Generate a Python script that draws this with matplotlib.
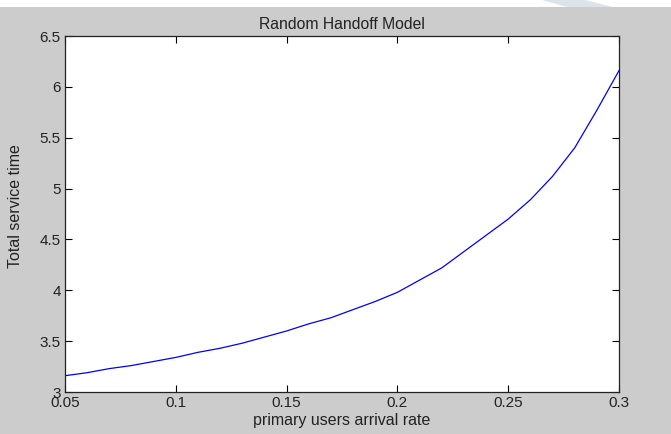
import matplotlib
matplotlib.use("Agg")
from matplotlib import pyplot as plt
from matplotlib.patches import Polygon

# arrival rate vs total service time
rate = [0.05, 0.06, 0.07, 0.08, 0.09, 0.10, 0.11, 0.12, 0.13, 0.14, 0.15, 0.16, 0.17,
        0.18, 0.19, 0.20, 0.21, 0.22, 0.23, 0.24, 0.25, 0.26, 0.27, 0.28, 0.29, 0.30]
service = [3.16, 3.19, 3.23, 3.26, 3.30, 3.34, 3.39, 3.43, 3.48, 3.54, 3.60, 3.67, 3.73,
           3.81, 3.89, 3.98, 4.10, 4.22, 4.38, 4.54, 4.70, 4.89, 5.12, 5.40, 5.77, 6.16]
xticks = [0.05, 0.1, 0.15, 0.2, 0.25, 0.3]
xlabels = ["0.05", "0.1", "0.15", "0.2", "0.25", "0.3"]
yticks = [3, 3.5, 4, 4.5, 5, 5.5, 6, 6.5]
ylabels = ["3", "3.5", "4", "4.5", "5", "5.5", "6", "6.5"]

plt.rcParams["font.family"] = ["Liberation Sans", "DejaVu Sans"]

W, H = 671, 434
fig = plt.figure(figsize=(W / 100, H / 100), dpi=100)
fig.patch.set_facecolor("white")

# grey window background below a thin white strip
strip = 7
fig.patches.append(plt.Rectangle((0, 0), 1, (H - strip) / H, transform=fig.transFigure,
                                 facecolor="#cccccc", edgecolor="none", zorder=-10))
# light blue decoration in the top strip
fig.patches.append(Polygon([(542 / W, 1), (585 / W, 1), (613 / W, (H - strip) / H),
                            (567 / W, (H - strip) / H)],
                           closed=True, transform=fig.transFigure,
                           facecolor="#dce4e9", edgecolor="none", zorder=-9))

left, right, top, bottom = 65, 619, 36, 392
ax = fig.add_axes([left / W, 1 - bottom / H, (right - left) / W, (bottom - top) / H])
ax.set_facecolor("white")

ax.plot(rate, service, color=(0, 0, 1), linewidth=0.9)

ax.set_xlim(0.05, 0.3)
ax.set_ylim(3, 6.5)
ax.set_xticks(xticks)
ax.set_xticklabels(xlabels)
ax.set_yticks(yticks)
ax.set_yticklabels(ylabels)
ax.tick_params(direction="in", length=5, width=0.8, top=True, right=True,
               labelsize=11, colors="black", pad=3)
ax.tick_params(axis="x", pad=3)
ax.tick_params(labelcolor="#222222")
for s in ax.spines.values():
    s.set_linewidth(0.9)
    s.set_color("#222222")

ax.set_title("Random Handoff Model", fontsize=11.3, pad=5, color="#222222")
ax.set_xlabel("primary users arrival rate", fontsize=11.5, labelpad=2, color="#222222")
ax.set_ylabel("Total service time", fontsize=11.5, color="#222222")
ax.yaxis.set_label_coords(-42 / (right - left), (bottom - 206) / (bottom - top))

fig.savefig("out.png", dpi=100)
